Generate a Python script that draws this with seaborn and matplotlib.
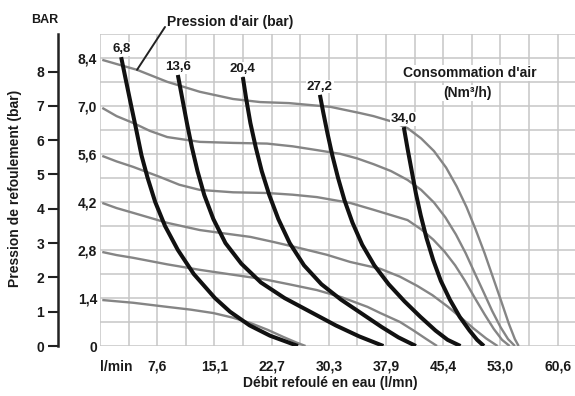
import numpy as np
import pandas as pd
import matplotlib
matplotlib.use("Agg")
import matplotlib.pyplot as plt
import seaborn as sns

# ---- air pressure curves (grey), bar ----
air_pressures = ["8,4", "7,0", "5,6", "4,2", "2,8", "1,4"]
p84_x = [0.3, 2.5, 4.9, 8.9, 13.2, 17.6, 21.2, 25.0, 30.5, 34.4, 36.2, 38.5, 40.7, 42.5, 44.2, 45.8, 47.2, 48.5, 49.7, 50.9, 52.0, 53.1, 54.1, 54.9, 55.4]
p84_y = [8.34, 8.20, 8.05, 7.70, 7.41, 7.20, 7.11, 7.08, 6.97, 6.79, 6.70, 6.55, 6.35, 6.05, 5.68, 5.20, 4.65, 4.05, 3.40, 2.70, 2.00, 1.30, 0.65, 0.20, 0.00]
p70_x = [0.3, 2.2, 4.4, 6.6, 8.9, 13.2, 17.6, 22.1, 25.5, 28.7, 31.8, 34.0, 36.2, 38.5, 40.7, 42.5, 44.2, 45.7, 47.1, 48.4, 49.6, 50.8, 51.9, 53.0, 54.0, 54.9]
p70_y = [6.94, 6.70, 6.50, 6.27, 6.09, 5.95, 5.92, 5.90, 5.82, 5.71, 5.60, 5.47, 5.30, 5.10, 4.84, 4.55, 4.18, 3.75, 3.25, 2.70, 2.12, 1.55, 1.02, 0.55, 0.20, 0.00]
p56_x = [0.3, 2.2, 4.4, 7.9, 10.5, 13.2, 17.6, 22.1, 25.5, 28.7, 33.1, 36.2, 40.7, 42.5, 44.1, 45.6, 47.0, 48.3, 49.6, 50.9, 52.1, 53.2, 54.2]
p56_y = [5.54, 5.38, 5.22, 4.93, 4.70, 4.55, 4.48, 4.46, 4.41, 4.34, 4.17, 3.97, 3.67, 3.40, 3.10, 2.75, 2.35, 1.90, 1.40, 0.92, 0.50, 0.18, 0.00]
p42_x = [0.3, 2.2, 4.4, 8.9, 13.2, 16.5, 19.9, 23.0, 26.5, 30.0, 33.1, 37.1, 39.7, 42.0, 44.0, 46.0, 47.8, 49.5, 51.1, 52.6]
p42_y = [4.17, 4.02, 3.88, 3.59, 3.38, 3.28, 3.18, 3.03, 2.85, 2.66, 2.45, 2.25, 2.02, 1.75, 1.48, 1.15, 0.82, 0.50, 0.22, 0.00]
p28_x = [0.3, 2.2, 4.4, 8.9, 13.2, 17.5, 21.6, 25.0, 28.7, 32.0, 35.4, 37.1, 39.7, 41.5, 43.2, 44.6]
p28_y = [2.74, 2.65, 2.57, 2.38, 2.22, 2.08, 1.95, 1.80, 1.63, 1.42, 1.14, 0.96, 0.70, 0.45, 0.20, 0.00]
p14_x = [0.3, 4.4, 8.9, 12.0, 15.0, 17.5, 19.9, 22.2, 24.3, 26.0, 27.2]
p14_y = [1.34, 1.26, 1.14, 1.06, 0.96, 0.83, 0.67, 0.47, 0.26, 0.10, 0.00]

# ---- air consumption curves (black), Nm3/h ----
air_consumptions = ["6,8", "13,6", "20,4", "27,2", "34,0"]
c68_x = [2.8, 3.47, 4.13, 4.8, 5.5, 6.3, 7.3, 8.6, 10.3, 12.4, 15.2, 17.2, 19.8, 22.5, 26.2]
c68_y = [8.42, 7.70, 7.00, 6.30, 5.55, 4.90, 4.20, 3.50, 2.80, 2.10, 1.40, 1.00, 0.60, 0.30, 0.00]
c136_x = [10.3, 10.9, 11.5, 12.15, 12.9, 13.8, 15.0, 16.6, 18.7, 21.3, 24.4, 27.8, 31.2, 34.3, 37.5]
c136_y = [7.90, 7.20, 6.50, 5.80, 5.10, 4.40, 3.70, 3.00, 2.40, 1.85, 1.40, 1.00, 0.60, 0.28, 0.00]
c204_x = [18.9, 19.35, 19.9, 20.6, 21.4, 22.4, 23.6, 25.1, 27.0, 29.3, 31.9, 34.6, 37.3, 39.5, 41.8]
c204_y = [7.84, 7.20, 6.50, 5.80, 5.10, 4.40, 3.70, 3.00, 2.35, 1.80, 1.35, 0.95, 0.55, 0.25, 0.00]
c272_x = [29.1, 29.55, 30.1, 30.75, 31.5, 32.35, 33.4, 34.7, 36.3, 38.2, 40.3, 42.4, 44.4, 46.0, 47.7]
c272_y = [7.32, 6.80, 6.20, 5.55, 4.90, 4.25, 3.60, 2.95, 2.35, 1.80, 1.30, 0.85, 0.45, 0.18, 0.00]
c340_x = [40.2, 40.7, 41.25, 41.8, 42.45, 43.2, 44.1, 45.1, 46.3, 47.6, 48.9, 49.9, 50.8]
c340_y = [6.38, 5.75, 5.10, 4.45, 3.80, 3.15, 2.50, 1.90, 1.35, 0.85, 0.45, 0.18, 0.00]

# ---- axis ticks ----
flow_ticks = [0, 7.57, 15.14, 22.71, 30.28, 37.85, 45.42, 52.99, 60.56]
flow_labels = ["l/min", "7,6", "15,1", "22,7", "30,3", "37,9", "45,4", "53,0", "60,6"]
inner_ticks = [0, 1.4, 2.8, 4.2, 5.6, 7.0, 8.4]
inner_labels = ["0", "1,4", "2,8", "4,2", "5,6", "7,0", "8,4"]
bar_ticks = [0, 1, 2, 3, 4, 5, 6, 7, 8]

grey_x = [p84_x, p70_x, p56_x, p42_x, p28_x, p14_x]
grey_y = [p84_y, p70_y, p56_y, p42_y, p28_y, p14_y]
black_x = [c68_x, c136_x, c204_x, c272_x, c340_x]
black_y = [c68_y, c136_y, c204_y, c272_y, c340_y]

grey_df = pd.concat([pd.DataFrame({"x": xs, "y": ys, "curve": name})
                     for name, xs, ys in zip(air_pressures, grey_x, grey_y)], ignore_index=True)
black_df = pd.concat([pd.DataFrame({"x": xs, "y": ys, "curve": name})
                      for name, xs, ys in zip(air_consumptions, black_x, black_y)], ignore_index=True)

sns.set_style("white")
plt.rcParams["font.family"] = ["Liberation Sans", "DejaVu Sans"]
plt.rcParams["font.weight"] = "bold"
TXT = "#1a1a1a"

W, H = 575, 396
fig = plt.figure(figsize=(W / 100, H / 100), dpi=100)
x_max = 475 / 7.557
ax = fig.add_axes([100 / W, 50 / H, 475 / W, 312.2 / H])

sns.lineplot(data=grey_df, x="x", y="y", units="curve", estimator=None, sort=False,
             color="#858585", linewidth=1.7, ax=ax)
sns.lineplot(data=black_df, x="x", y="y", units="curve", estimator=None, sort=False,
             color="#111111", linewidth=2.9, ax=ax)
for ln in ax.get_lines():
    ln.set_solid_joinstyle("round")
    ln.set_solid_capstyle("butt")

ax.set_xlim(0, x_max)
ax.set_ylim(0, 9.1)
ax.set_xticks(flow_ticks)
ax.set_xticklabels(flow_labels)
ax.set_xticks(np.arange(0, 63, 3.785), minor=True)
ax.set_yticks(inner_ticks)
ax.set_yticklabels(inner_labels)
ax.set_yticks(np.arange(0, 9.11, 0.7), minor=True)
ax.grid(True, which="both", color="#c6c6c6", linewidth=1.1)
ax.set_axisbelow(True)
ax.tick_params(axis="both", which="both", length=0)
ax.tick_params(axis="x", pad=10, labelsize=10, labelcolor=TXT)
ax.tick_params(axis="y", pad=2, labelsize=10, labelcolor=TXT)
for lab in ax.get_xticklabels():
    lab.set_fontweight("bold")
ax.get_xticklabels()[0].set_horizontalalignment("left")
for lab in ax.get_yticklabels():
    lab.set_fontweight("bold")
for s in ax.spines.values():
    s.set_visible(False)
ax.set_xlabel("")
ax.set_ylabel("")

# outer bar axis
ax2 = ax.twinx()
ax2.set_ylim(0, 9.1)
ax2.yaxis.tick_left()
ax2.set_yticks(bar_ticks)
ax2.set_yticklabels([str(v) for v in bar_ticks])
for k, s in ax2.spines.items():
    s.set_visible(k == "left")
ax2.spines["left"].set_position(("outward", 30.2))
ax2.spines["left"].set_linewidth(1.8)
ax2.spines["left"].set_color("#222222")
ax2.tick_params(axis="y", length=7, width=1.5, color="#222222", pad=3,
                labelsize=10, labelcolor=TXT)
for lab in ax2.get_yticklabels():
    lab.set_fontweight("bold")

# labels for the consumption curves
for name, xs, ys in zip(air_consumptions, black_x, black_y):
    ax.annotate(name, xy=(xs[0], ys[0]), xytext=(0, 1.5), textcoords="offset points",
                ha="center", va="bottom", fontsize=9.5, fontweight="bold", color=TXT,
                bbox=dict(boxstyle="square,pad=0.05", fc="white", ec="none"),
                annotation_clip=False)

# leader line for air pressure label
ax.annotate("", xy=(4.9, 8.05), xycoords="data",
            xytext=(165 / W, 1 - 27 / H), textcoords="figure fraction",
            arrowprops=dict(arrowstyle="-", lw=1.4, color="#222222", shrinkA=0, shrinkB=0),
            annotation_clip=False)
fig.text(167 / W, 1 - 22 / H, "Pression d'air (bar)", ha="left", va="center",
         fontsize=10, fontweight="bold", color=TXT)
fig.text(470 / W, 1 - 73 / H, "Consommation d'air", ha="center", va="center",
         fontsize=10, fontweight="bold", color=TXT,
         bbox=dict(boxstyle="square,pad=0.1", fc="white", ec="none"))
fig.text(468 / W, 1 - 93 / H, "(Nm³/h)", ha="center", va="center",
         fontsize=10, fontweight="bold", color=TXT,
         bbox=dict(boxstyle="square,pad=0.1", fc="white", ec="none"))
fig.text(45 / W, 1 - 20 / H, "BAR", ha="center", va="center",
         fontsize=9, fontweight="bold", color=TXT)
fig.text(15 / W, 1 - 188 / H, "Pression de refoulement (bar)", ha="center", va="center",
         rotation=90, fontsize=10, fontweight="bold", color=TXT)
fig.text(330 / W, 1 - 383 / H, "Débit refoulé en eau (l/mn)", ha="center", va="center",
         fontsize=10, fontweight="bold", color=TXT)

fig.savefig("out.png", dpi=100, facecolor="white")
